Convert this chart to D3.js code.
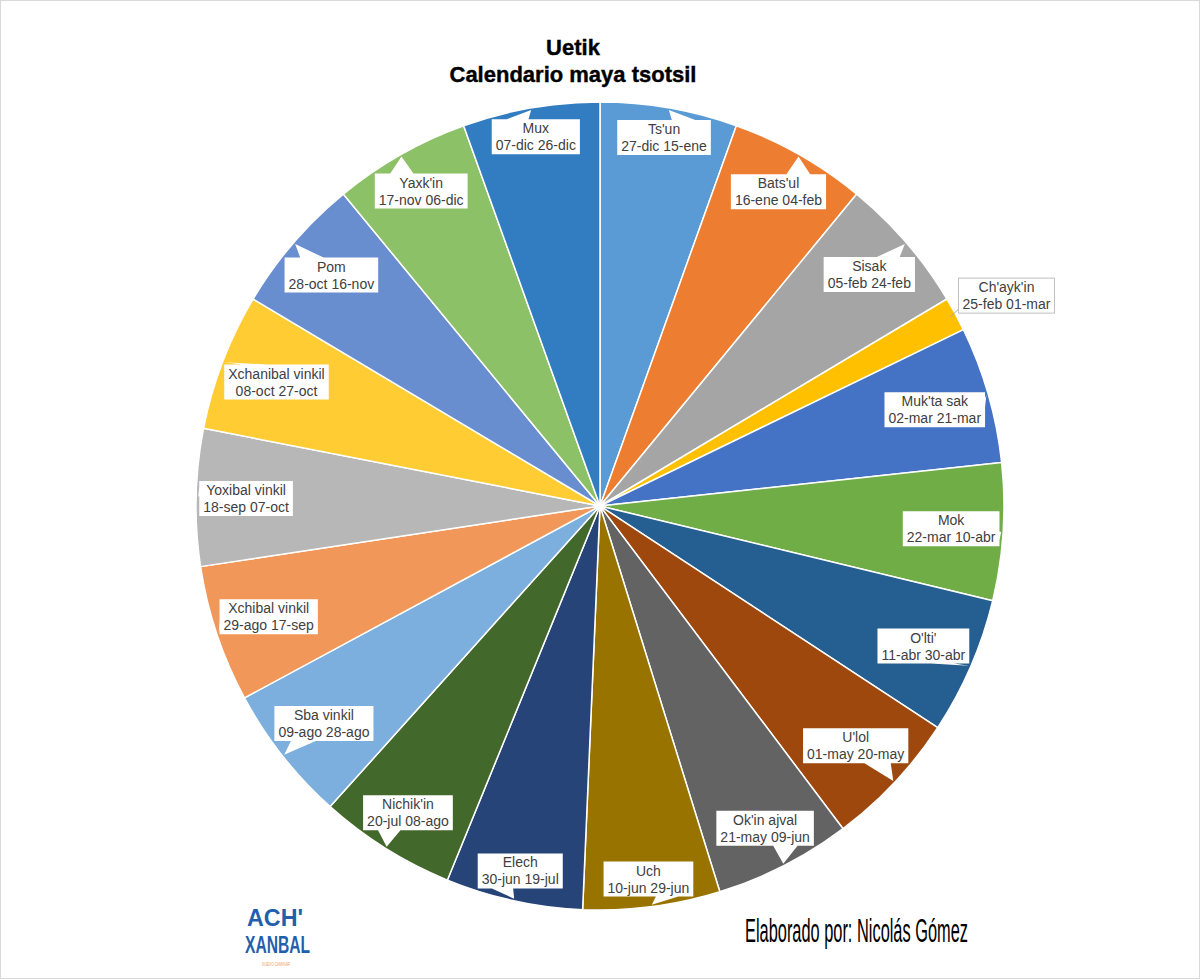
<!DOCTYPE html>
<html>
<head>
<meta charset="utf-8">
<script src="https://cdn.jsdelivr.net/npm/d3@7"></script>
<style>
  html, body { margin: 0; padding: 0; background: #fff; }
  svg { display: block; }
</style>
</head>
<body>
<svg id="chart" width="1200" height="979"></svg>
<script>
// ---- Data ----
const names  = ["Ts'un","Bats'ul","Sisak","Ch'ayk'in","Muk'ta sak","Mok","O'lti'","U'lol","Ok'in ajval","Uch","Elech","Nichik'in","Sba vinkil","Xchibal vinkil","Yoxibal vinkil","Xchanibal vinkil","Pom","Yaxk'in","Mux"];
const starts = ["27-dic","16-ene","05-feb","25-feb","02-mar","22-mar","11-abr","01-may","21-may","10-jun","30-jun","20-jul","09-ago","29-ago","18-sep","08-oct","28-oct","17-nov","07-dic"];
const ends   = ["15-ene","04-feb","24-feb","01-mar","21-mar","10-abr","30-abr","20-may","09-jun","29-jun","19-jul","08-ago","28-ago","17-sep","07-oct","27-oct","16-nov","06-dic","26-dic"];
const days   = [20,20,20,5,20,20,20,20,20,20,20,20,20,20,20,20,20,20,20];
const colors = ["#5B9BD5","#ED7D31","#A5A5A5","#FFC000","#4472C4","#70AD47","#255E91","#9E480E","#636363","#997300","#264478","#43682B","#7CAFDD","#F1975A","#B7B7B7","#FFCD33","#698ED0","#8CC168","#327DC2"];
const titleLines = ["Uetik","Calendario maya tsotsil"];
const author = "Elaborado por: Nicolás Gómez";

// ---- Layout ----
const svg = d3.select("#chart");
const W = 1200, H = 979;
const cx = 600, cy = 506, R = 404;

svg.append("rect").attr("x",0.5).attr("y",0.5).attr("width",W-1).attr("height",H-1)
  .attr("fill","#fff").attr("stroke","#d9d9d9");

// Title
svg.append("text").attr("x",573).attr("y",55).attr("text-anchor","middle")
  .attr("font-family","Liberation Sans, Arial, sans-serif").attr("font-weight","bold")
  .attr("font-size",22).attr("fill","#000").attr("stroke","#000").attr("stroke-width",0.4)
  .text(titleLines[0]);
svg.append("text").attr("x",573).attr("y",82).attr("text-anchor","middle")
  .attr("font-family","Liberation Sans, Arial, sans-serif").attr("font-weight","bold")
  .attr("font-size",22).attr("fill","#000").attr("stroke","#000").attr("stroke-width",0.4)
  .text(titleLines[1]);

const pie = d3.pie().sort(null).value(d => d);
const arcs = pie(days);
const arc = d3.arc().innerRadius(0).outerRadius(R);

const g = svg.append("g").attr("transform",`translate(${cx},${cy})`);
g.selectAll("path.slice").data(arcs).join("path")
  .attr("class","slice")
  .attr("d", arc)
  .attr("fill", (d,i) => colors[i])
  .attr("stroke","#fff").attr("stroke-width",1.5).attr("stroke-linejoin","round");

// ---- Callout labels ----
const fontSize = 14;
const lab = svg.append("g").attr("font-family","Liberation Sans, Arial, sans-serif")
  .attr("font-size",fontSize).attr("fill","#404040");

const meas = svg.append("text").attr("font-family","Liberation Sans, Arial, sans-serif")
  .attr("font-size",fontSize).attr("visibility","hidden");
function textW(s){ meas.text(s); return meas.node().getComputedTextLength(); }

function calloutPath(x,y,w,h,tx,ty){
  const hc=x+w/2, vc=y+h/2, dxPos=tx-hc, dyPos=ty-vc;
  const dq = dxPos*h/w, dz = Math.abs(dyPos)-Math.abs(dq);
  const x1 = x + w*(dxPos>0?7:2)/12, x2 = x + w*(dxPos>0?10:5)/12;
  const y1 = y + h*(dyPos>0?7:2)/12, y2 = y + h*(dyPos>0?10:5)/12;
  const inside = tx>=x && tx<=x+w && ty>=y && ty<=y+h;
  let side = inside ? "" : (dz>0 ? (dyPos>0?"b":"t") : (dxPos>0?"r":"l"));
  let p = `M${x},${y}`;
  if (side==="t") p += `L${x1},${y}L${tx},${ty}L${x2},${y}`;
  p += `L${x+w},${y}`;
  if (side==="r") p += `L${x+w},${y1}L${tx},${ty}L${x+w},${y2}`;
  p += `L${x+w},${y+h}`;
  if (side==="b") p += `L${x2},${y+h}L${tx},${ty}L${x1},${y+h}`;
  p += `L${x},${y+h}`;
  if (side==="l") p += `L${x},${y2}L${tx},${ty}L${x},${y1}`;
  return p + "Z";
}

const boxH = 35, pad = 4, margin = 2.5;
arcs.forEach((a,i) => {
  const line1 = names[i], line2 = `${starts[i]} ${ends[i]}`;
  const w = Math.max(textW(line1), textW(line2)) + 2*pad;
  const h = boxH;
  const mid = (a.startAngle + a.endAngle)/2;
  const ux = Math.sin(mid), uy = -Math.cos(mid);
  const tipX = cx + (R-2)*ux, tipY = cy + (R-2)*uy;
  let bx, by, outside = (a.endAngle - a.startAngle) < 0.15;
  if (!outside) {
    let lo = 0, hi = R;
    for (let k=0;k<40;k++){
      const t=(lo+hi)/2, ccx=cx+t*ux, ccy=cy+t*uy;
      const corners=[[ccx-w/2,ccy-h/2],[ccx+w/2,ccy-h/2],[ccx-w/2,ccy+h/2],[ccx+w/2,ccy+h/2]];
      const ok = corners.every(([px,py]) => Math.hypot(px-cx,py-cy) <= R - margin);
      if (ok) lo=t; else hi=t;
    }
    bx = cx + lo*ux - w/2; by = cy + lo*uy - h/2;
    lab.append("path").attr("d", calloutPath(bx,by,w,h,tipX,tipY)).attr("fill","#fff");
  } else {
    const ex = cx + R*ux, ey = cy + R*uy;
    bx = ex + 3; by = ey - h - 1;
    lab.append("line").attr("x1",cx+(R-6)*ux).attr("y1",cy+(R-6)*uy)
      .attr("x2",bx).attr("y2",by+h-4).attr("stroke","#a6a6a6").attr("stroke-width",1);
    lab.append("rect").attr("x",bx).attr("y",by).attr("width",w).attr("height",h)
      .attr("fill","#fff").attr("stroke","#bfbfbf").attr("stroke-width",1);
  }
  lab.append("text").attr("x",bx+w/2).attr("y",by+14).attr("text-anchor","middle").text(line1);
  lab.append("text").attr("x",bx+w/2).attr("y",by+31).attr("text-anchor","middle").text(line2);
});
meas.remove();

// ---- Footer ----
svg.append("text").attr("x",745).attr("y",942)
  .attr("font-family","Liberation Sans Narrow, Arial Narrow, Liberation Sans, sans-serif")
  .attr("font-size",33).attr("fill","#000")
  .attr("textLength",223).attr("lengthAdjust","spacingAndGlyphs")
  .text(author);

// Logo
const logo = svg.append("g").attr("font-family","Liberation Sans Narrow, Liberation Sans, sans-serif")
  .attr("font-weight","bold").attr("fill","#1f5fae");
logo.append("text").attr("x",247).attr("y",926).attr("font-size",24)
  .attr("textLength",56).attr("lengthAdjust","spacingAndGlyphs").text("ACH'");
logo.append("text").attr("x",245).attr("y",953).attr("font-size",24)
  .attr("textLength",65).attr("lengthAdjust","spacingAndGlyphs").text("XANBAL");
svg.append("text").attr("x",262).attr("y",966).attr("font-size",5)
  .attr("font-family","Liberation Sans, sans-serif").attr("fill","#f0a060")
  .attr("textLength",28).attr("lengthAdjust","spacingAndGlyphs").text("NUEVO CAMINAR");
</script>
</body>
</html>
